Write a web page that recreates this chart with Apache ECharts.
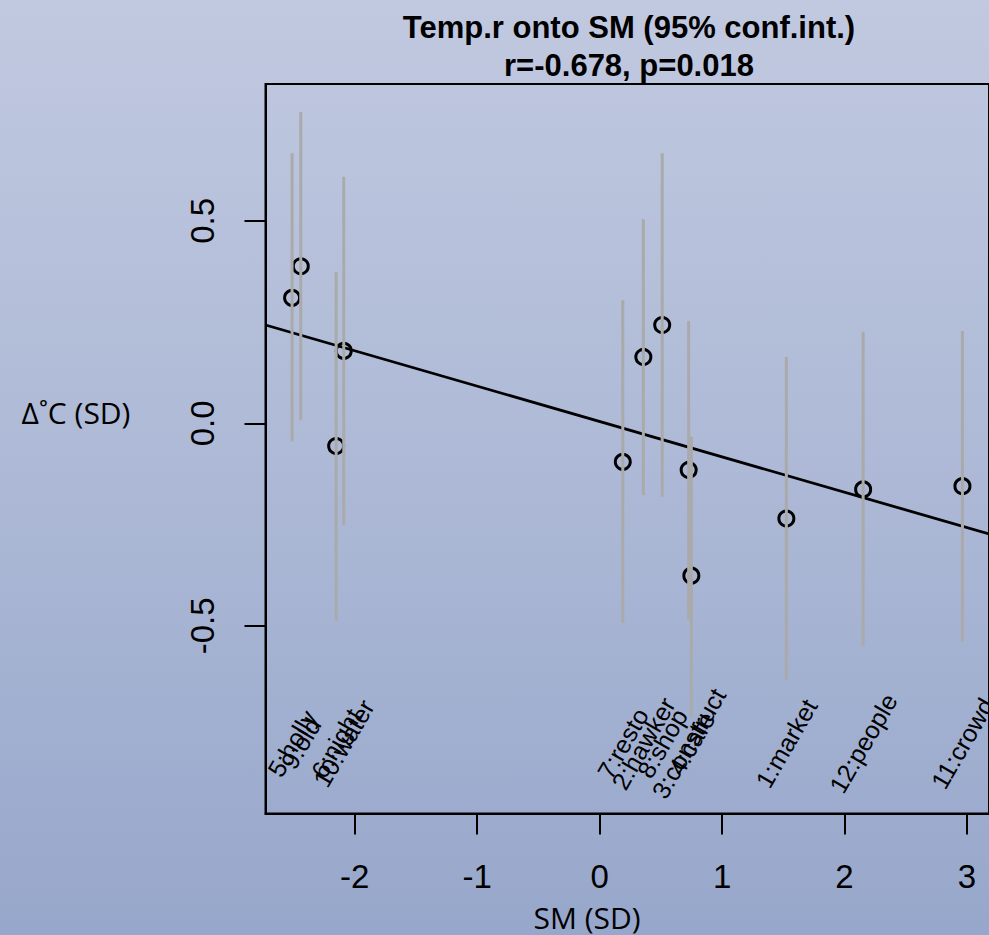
<!DOCTYPE html>
<html><head><meta charset="utf-8">
<script src="https://cdn.jsdelivr.net/npm/echarts@6/dist/echarts.min.js"></script>
<style>
html,body{margin:0;padding:0;width:989px;height:935px;overflow:hidden;
background:linear-gradient(180deg,#c1c9e0 0%,#adb9d6 50%,#97a7cb 100%);}
#chart{width:989px;height:935px;}
</style></head><body><div id="chart"></div>
<script>
// ---- data ----
const labels = ['5:holly','9:old','6:night','10:water','7:resto','2:hawker','8:shop','3:construct','4:cafe','1:market','12:people','11:crowd'];
const smValues   = [-2.512,-2.441,-2.152,-2.090, 0.189, 0.357, 0.511, 0.727, 0.749, 1.525, 2.152, 2.963];
const tempValues = [ 0.310, 0.388,-0.056, 0.179,-0.095, 0.164, 0.243,-0.115,-0.376,-0.235,-0.163,-0.155];
const ciLower    = [-0.045, 0.008,-0.488,-0.251,-0.493,-0.177,-0.181,-0.484,-0.725,-0.634,-0.550,-0.539];
const ciUpper    = [ 0.667, 0.769, 0.374, 0.609, 0.304, 0.504, 0.667, 0.253,-0.033, 0.164, 0.226, 0.228];
const fitX = [-2.729, 3.18];
const fitY = [0.243, -0.273];
const xTicks = [-2,-1,0,1,2,3];
const yTicks = [-0.5,0,0.5];
const titleLine1 = 'Temp.r onto SM (95% conf.int.)';
const titleLine2 = 'r=-0.678, p=0.018';
const xName = 'SM (SD)';
const yName = 'Δ˚C (SD)';

// ---- layout constants ----
const X_MIN = -2.729, X_MAX = 3.18, Y_MIN = -0.963, Y_MAX = 0.838;
const LABEL_LEVEL = -0.79;

const chart = echarts.init(document.getElementById('chart'), null, {renderer:'svg'});
const pts = smValues.map((x,i)=>[x, tempValues[i]]);
const bars = smValues.map((x,i)=>[x, ciLower[i], ciUpper[i]]);
const labelPts = smValues.map((x,i)=>({value:[x, LABEL_LEVEL], name:labels[i]}));
const fitData = fitX.map((x,i)=>[x, fitY[i]]);

const titleFont = {fontFamily:'Liberation Sans', fontWeight:'bold', fontSize:31, color:'#000'};
const nameFont = {fontFamily:'Open Sans', fontWeight:'normal', fontSize:30, color:'#000'};

chart.setOption({
  animation:false,
  backgroundColor:'transparent',
  title:[
    {text:titleLine1, left:629, top:27, textAlign:'center', textVerticalAlign:'middle', padding:0, textStyle:titleFont},
    {text:titleLine2, left:629, top:65, textAlign:'center', textVerticalAlign:'middle', padding:0, textStyle:titleFont},
    {text:xName, left:587, top:917, textAlign:'center', textVerticalAlign:'middle', padding:0, textStyle:nameFont},
    {text:yName, left:76, top:412, textAlign:'center', textVerticalAlign:'middle', padding:0, textStyle:nameFont}
  ],
  grid:{left:265.5, top:84, width:728.6, height:729.4, show:true, borderColor:'#000', borderWidth:2, backgroundColor:'transparent', containLabel:false},
  xAxis:{type:'value', min:X_MIN, max:X_MAX,
    axisLine:{show:true, onZero:false, lineStyle:{color:'#000', width:2}},
    axisTick:{show:true, length:21, customValues:xTicks, lineStyle:{color:'#000', width:2}},
    axisLabel:{customValues:xTicks, fontSize:33, color:'#000', margin:47, fontFamily:'Liberation Sans'},
    splitLine:{show:false}},
  yAxis:{type:'value', min:Y_MIN, max:Y_MAX,
    axisLine:{show:true, onZero:false, lineStyle:{color:'#000', width:2}},
    axisTick:{show:true, length:21, customValues:yTicks, lineStyle:{color:'#000', width:2}},
    axisLabel:{customValues:yTicks, fontSize:33, color:'#000', margin:47, rotate:90, fontFamily:'Liberation Sans',
      formatter:v=>Number(v).toFixed(1)},
    splitLine:{show:false}},
  series:[
    {type:'line', data:fitData, symbol:'none', z:2, lineStyle:{color:'#000', width:2.8}, clip:true, silent:true},
    {type:'scatter', data:pts, symbol:'circle', symbolSize:15, z:3,
      itemStyle:{color:'rgba(0,0,0,0)', borderColor:'#000', borderWidth:3, opacity:1}},
    {type:'custom', data:bars, z:4, encode:{x:0, y:[1,2]},
      renderItem:(params, api)=>{
        const x = api.value(0), lo = api.value(1), hi = api.value(2);
        const a = api.coord([x, lo]), b = api.coord([x, hi]);
        return {type:'line', shape:{x1:a[0], y1:a[1], x2:b[0], y2:b[1]}, style:{stroke:'#aaaaaa', lineWidth:3}};
      }},
    {type:'scatter', data:labelPts, symbolSize:1, z:5, itemStyle:{color:'rgba(0,0,0,0)'},
      label:{show:true, position:'inside', rotate:60, align:'center', verticalAlign:'middle',
        formatter:p=>p.name, fontSize:25, color:'#000', opacity:1, textBorderWidth:0, fontFamily:'Liberation Sans'}}
  ]
});
</script></body></html>
